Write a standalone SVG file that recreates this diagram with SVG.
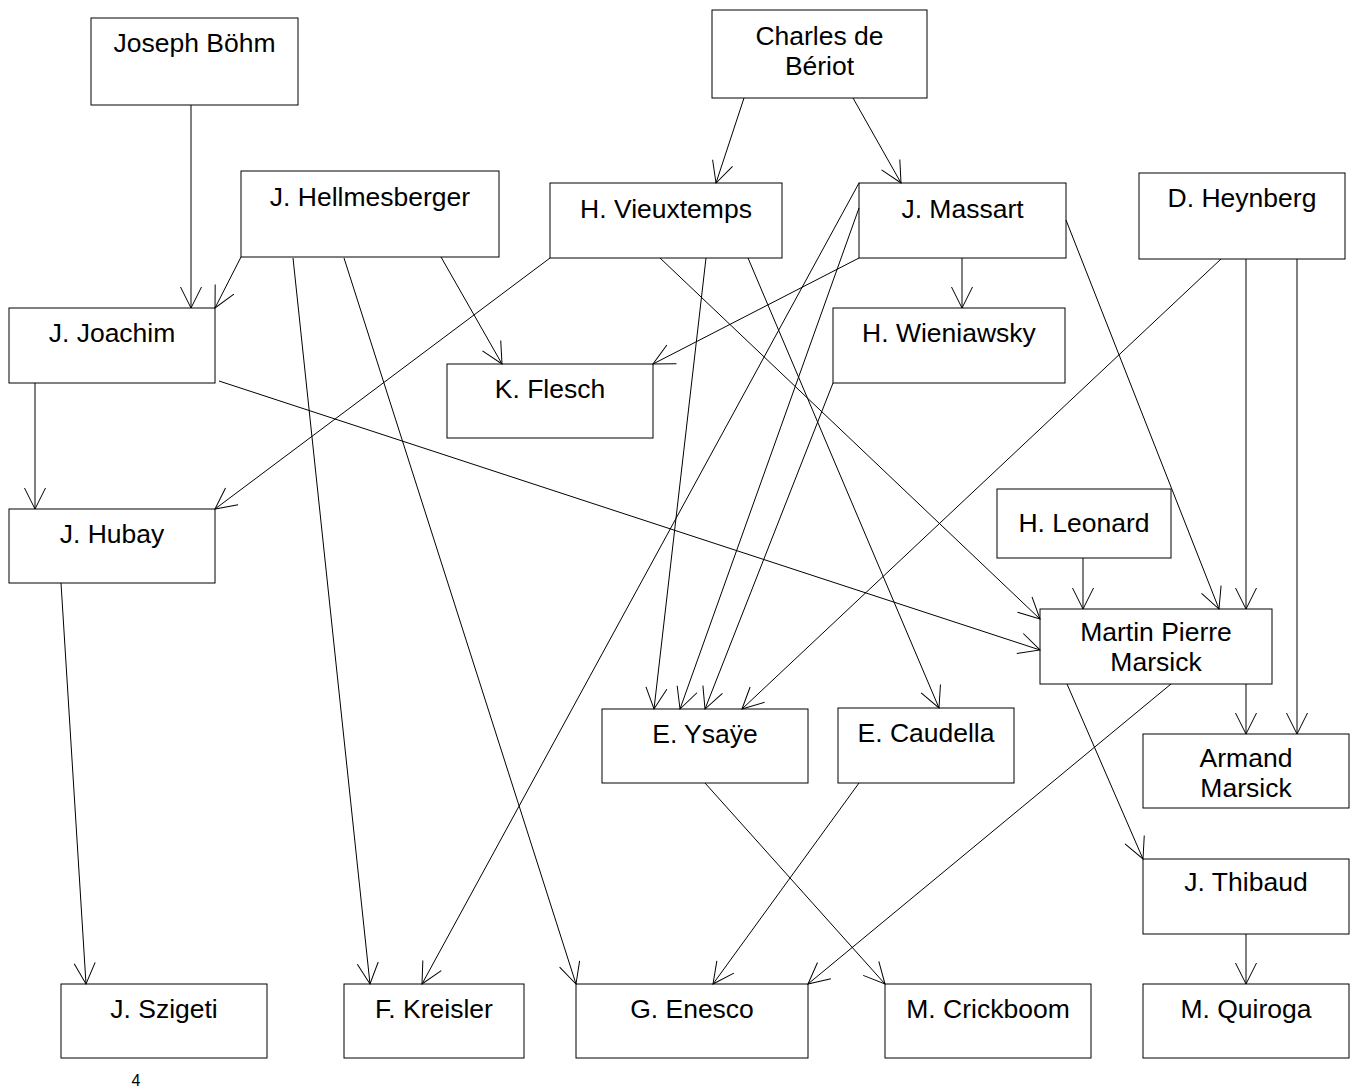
<svg xmlns="http://www.w3.org/2000/svg" width="1355" height="1088" viewBox="0 0 1355 1088">
<style>
.box{fill:#fff;stroke:#000;stroke-width:1}
.t{font-family:"Liberation Sans",Arial,sans-serif;font-size:26.5px;fill:#000;text-anchor:middle}
.c line{stroke:#000;stroke-width:1;fill:none;marker-end:url(#a)}
</style>
<defs>
<marker id="a" markerUnits="userSpaceOnUse" viewBox="-23 -12 24 24" markerWidth="24" markerHeight="24" refX="0" refY="0" orient="auto" style="overflow:visible">
<path d="M-21,-10.5 L0,0 L-21,10.5" fill="none" stroke="#000" stroke-width="1"/>
</marker>
</defs>
<rect width="1355" height="1088" fill="#fff"/>
<g id="nodes">
<g id="bohm"><rect class="box" x="91" y="18" width="207" height="87"/><text class="t" x="194.5" y="52">Joseph Böhm</text></g>
<g id="beriot"><rect class="box" x="712" y="10" width="215" height="88"/><text class="t" x="819.5" y="45">Charles de</text><text class="t" x="819.5" y="75">Bériot</text></g>
<g id="hellmesberger"><rect class="box" x="241" y="171" width="258" height="86"/><text class="t" x="370" y="206">J. Hellmesberger</text></g>
<g id="vieuxtemps"><rect class="box" x="550" y="183" width="232" height="75"/><text class="t" x="666" y="218">H. Vieuxtemps</text></g>
<g id="massart"><rect class="box" x="859" y="183" width="207" height="75"/><text class="t" x="962.5" y="218">J. Massart</text></g>
<g id="heynberg"><rect class="box" x="1139" y="173" width="206" height="86"/><text class="t" x="1242" y="207">D. Heynberg</text></g>
<g id="joachim"><rect class="box" x="9" y="308" width="206" height="75"/><text class="t" x="112" y="342">J. Joachim</text></g>
<g id="wieniawsky"><rect class="box" x="833" y="308" width="232" height="75"/><text class="t" x="949" y="342">H. Wieniawsky</text></g>
<g id="flesch"><rect class="box" x="447" y="364" width="206" height="74"/><text class="t" x="550" y="398">K. Flesch</text></g>
<g id="hubay"><rect class="box" x="9" y="509" width="206" height="74"/><text class="t" x="112" y="543">J. Hubay</text></g>
<g id="leonard"><rect class="box" x="997" y="489" width="174" height="69"/><text class="t" x="1084" y="532">H. Leonard</text></g>
<g id="mpmarsick"><rect class="box" x="1040" y="609" width="232" height="75"/><text class="t" x="1156" y="641">Martin Pierre</text><text class="t" x="1156" y="671">Marsick</text></g>
<g id="ysaye"><rect class="box" x="602" y="709" width="206" height="74"/><text class="t" x="705" y="743">E. Ysaÿe</text></g>
<g id="caudella"><rect class="box" x="838" y="708" width="176" height="75"/><text class="t" x="926" y="742">E. Caudella</text></g>
<g id="amarsick"><rect class="box" x="1143" y="734" width="206" height="74"/><text class="t" x="1246" y="767">Armand</text><text class="t" x="1246" y="797">Marsick</text></g>
<g id="thibaud"><rect class="box" x="1143" y="859" width="206" height="75"/><text class="t" x="1246" y="891">J. Thibaud</text></g>
<g id="szigeti"><rect class="box" x="61" y="984" width="206" height="74"/><text class="t" x="164" y="1018">J. Szigeti</text></g>
<g id="kreisler"><rect class="box" x="344" y="984" width="180" height="74"/><text class="t" x="434" y="1018">F. Kreisler</text></g>
<g id="enesco"><rect class="box" x="576" y="984" width="232" height="74"/><text class="t" x="692" y="1018">G. Enesco</text></g>
<g id="crickboom"><rect class="box" x="885" y="984" width="206" height="74"/><text class="t" x="988" y="1018">M. Crickboom</text></g>
<g id="quiroga"><rect class="box" x="1143" y="984" width="206" height="74"/><text class="t" x="1246" y="1018">M. Quiroga</text></g>
</g>
<g id="connectors" class="c">
<line x1="191" y1="105" x2="191" y2="308"/>
<line x1="241" y1="257" x2="215" y2="308"/>
<line x1="293" y1="258" x2="370" y2="984"/>
<line x1="344" y1="258" x2="576" y2="984"/>
<line x1="441" y1="257" x2="502" y2="364"/>
<line x1="550" y1="258" x2="215" y2="509"/>
<line x1="660" y1="258" x2="1040" y2="619"/>
<line x1="706" y1="258" x2="654" y2="709"/>
<line x1="748" y1="258" x2="939" y2="708"/>
<line x1="744" y1="98" x2="716" y2="183"/>
<line x1="853" y1="98" x2="901" y2="183"/>
<line x1="962" y1="258" x2="962" y2="308"/>
<line x1="859" y1="258" x2="653" y2="364"/>
<line x1="859" y1="183" x2="422" y2="984"/>
<line x1="859" y1="208" x2="680" y2="709"/>
<line x1="833" y1="383" x2="705" y2="709"/>
<line x1="1221" y1="259" x2="742" y2="709"/>
<line x1="1066" y1="220" x2="1219" y2="609"/>
<line x1="1246" y1="259" x2="1246" y2="609"/>
<line x1="1297" y1="259" x2="1297" y2="734"/>
<line x1="1083" y1="558" x2="1083" y2="609"/>
<line x1="1246" y1="684" x2="1246" y2="734"/>
<line x1="1067" y1="684" x2="1143" y2="859"/>
<line x1="1246" y1="934" x2="1246" y2="984"/>
<line x1="1171" y1="684" x2="808" y2="984"/>
<line x1="859" y1="783" x2="713" y2="984"/>
<line x1="705" y1="783" x2="885" y2="984"/>
<line x1="61" y1="583" x2="86" y2="984"/>
<line x1="35" y1="383" x2="35" y2="509"/>
<line x1="219" y1="381" x2="1040" y2="650"/>
</g>
<text x="136" y="1086" style="font-family:'Liberation Sans',Arial,sans-serif;font-size:16px;text-anchor:middle">4</text>
</svg>
